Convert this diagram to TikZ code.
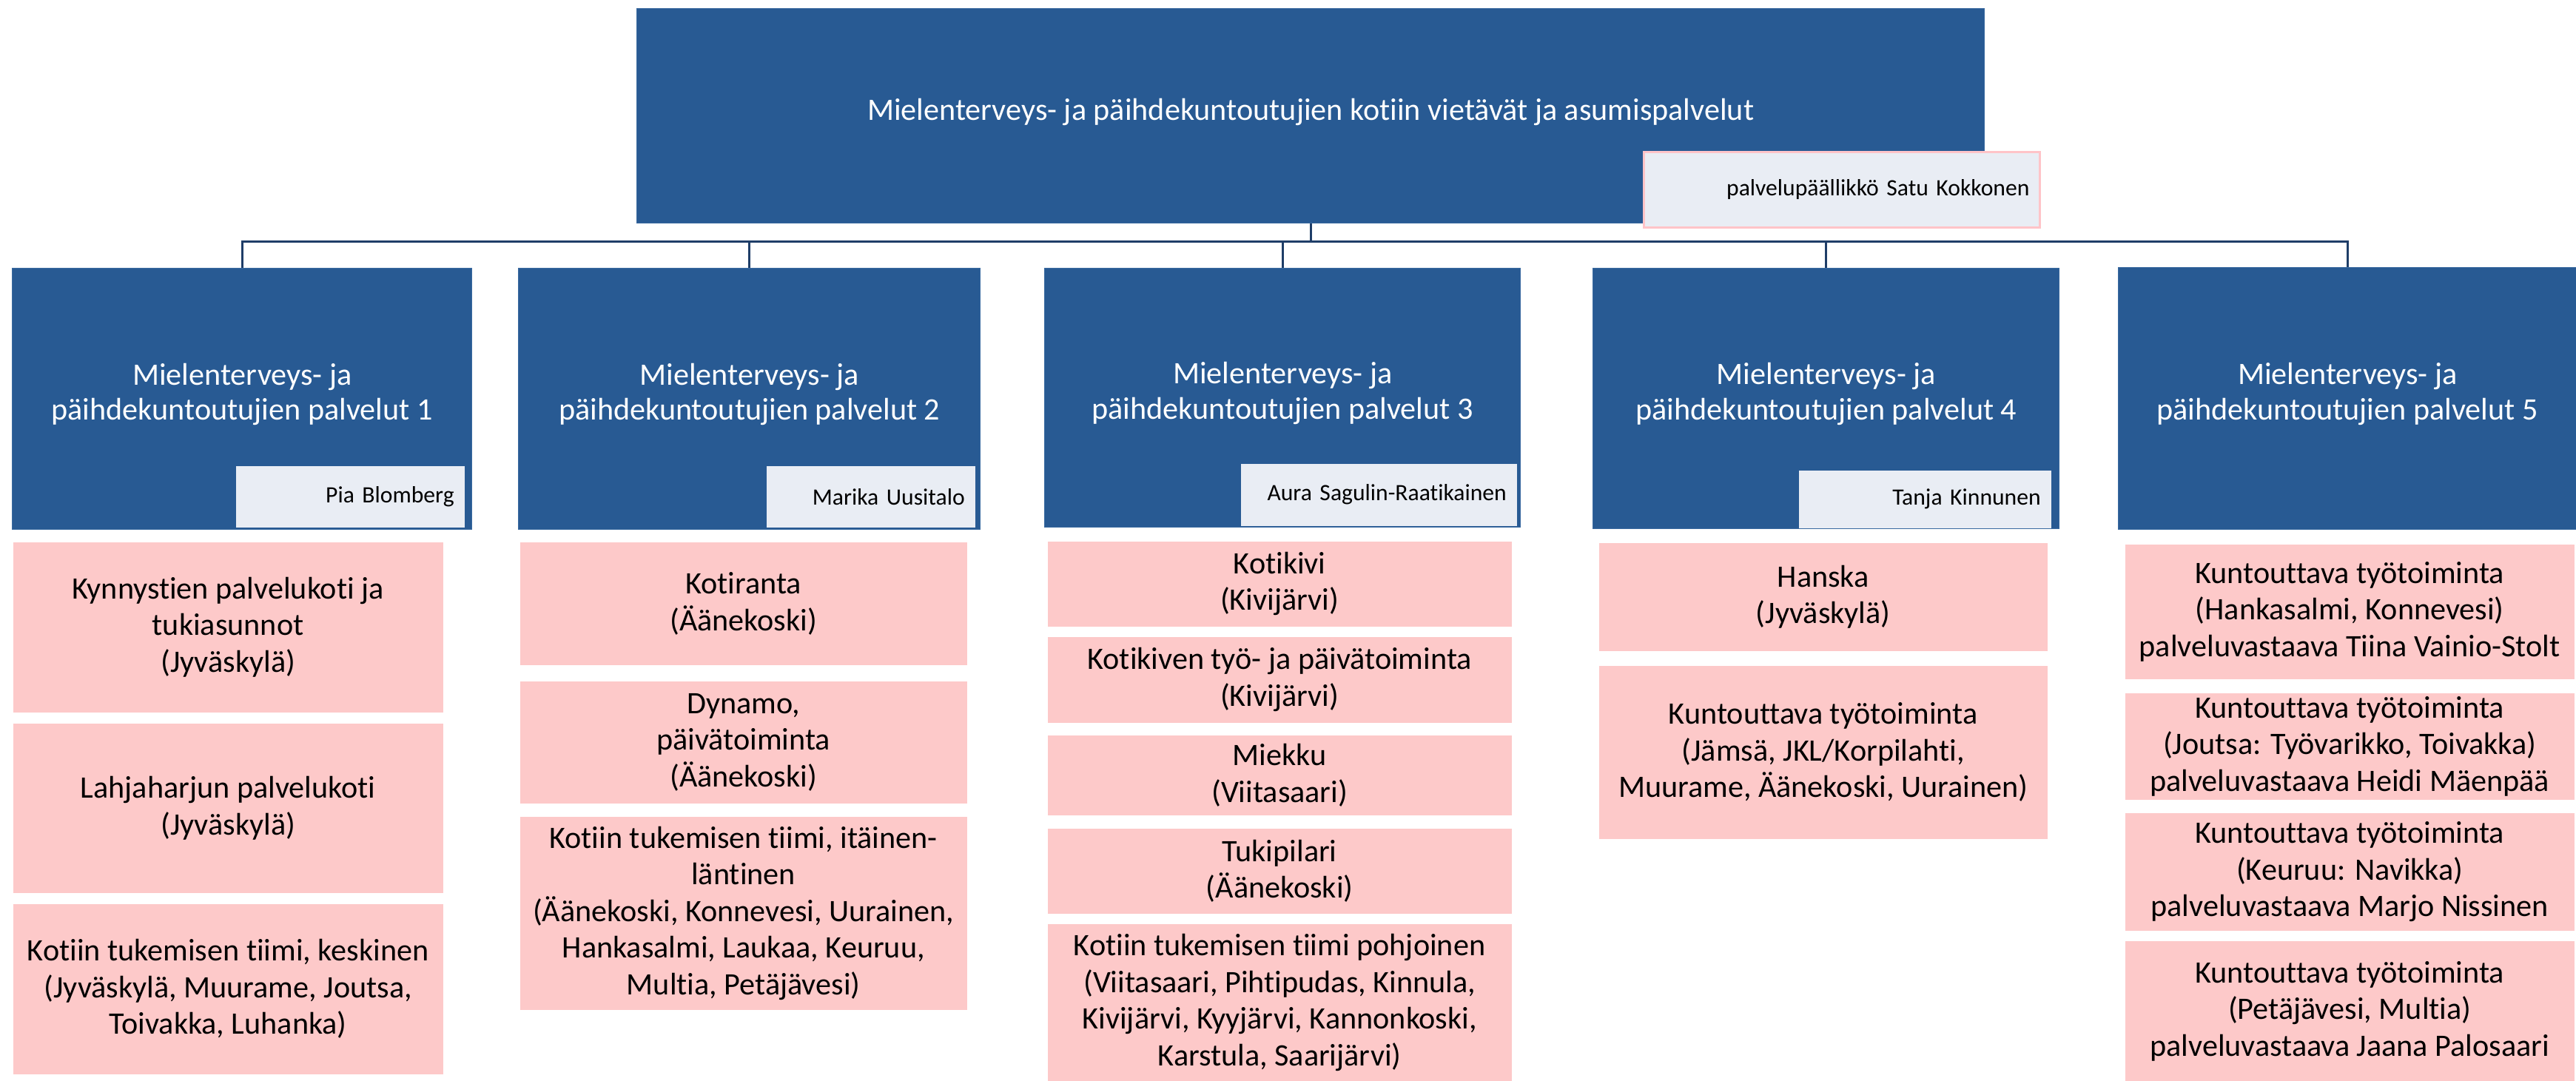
\documentclass[tikz,border=0pt]{standalone}
\usepackage{fontspec}
\setmainfont{Carlito}[Ligatures=NoCommon]
\usepackage{xcolor}
\usepackage{tikz}
\definecolor{unitblue}{HTML}{285A93}
\definecolor{unitedge}{HTML}{3A6AA0}
\definecolor{namegray}{HTML}{E9EDF4}
\definecolor{pinkfill}{HTML}{FDC9C9}
\definecolor{pinkedge}{HTML}{FFC4C8}
\definecolor{linkblue}{HTML}{1F3E68}

\begin{document}
\begin{tikzpicture}[
    unitbox/.style={anchor=north west, draw=unitedge, line width=0.4pt, fill=unitblue, text=white, align=center, inner sep=0pt, font=\fontsize{12}{13.6}\selectfont},
    namebox/.style={anchor=north west, fill=namegray, text=black, align=right, inner xsep=4pt, inner ysep=0pt, font=\fontsize{9}{11}\selectfont},
    pinkbox/.style={anchor=north west, fill=pinkfill, text=black, align=center, inner sep=0pt, font=\fontsize{12}{14.1}\selectfont},
    link/.style={draw=linkblue, line width=0.9pt}
]
            \useasboundingbox (0,0) rectangle (34.81,14.61);

            \node[unitbox, minimum width=18.21cm, minimum height=2.90cm] (top) at (8.60,14.50) {Mielenterveys- ja päihdekuntoutujien kotiin vietävät ja asumispalvelut\\[-0.30cm]};
            \node[namebox, draw=pinkedge, line width=0.8pt, text width=5.07cm, minimum height=1.02cm] (chief) at (22.20,12.57) {palvelupäällikkö Satu Kokkonen};

            \node[unitbox, minimum width=6.21cm, minimum height=3.53cm] (unit1) at (0.16,10.99) {Mielenterveys- ja\\päihdekuntoutujien palvelut 1\\[-0.28cm]};
            \node[unitbox, minimum width=6.24cm, minimum height=3.53cm] (unit2) at (7.00,10.99) {Mielenterveys- ja\\päihdekuntoutujien palvelut 2\\[-0.28cm]};
            \node[unitbox, minimum width=6.43cm, minimum height=3.50cm] (unit3) at (14.11,10.99) {Mielenterveys- ja\\päihdekuntoutujien palvelut 3\\[-0.28cm]};
            \node[unitbox, minimum width=6.30cm, minimum height=3.52cm] (unit4) at (21.52,10.99) {Mielenterveys- ja\\päihdekuntoutujien palvelut 4\\[-0.28cm]};
            \node[unitbox, minimum width=6.19cm, minimum height=3.54cm] (unit5) at (28.62,11.00) {Mielenterveys- ja\\päihdekuntoutujien palvelut 5\\[-0.28cm]};

            \node[namebox, text width=2.81cm, minimum height=0.83cm] (head1) at (3.18,8.32) {Pia Blomberg};
            \node[namebox, text width=2.54cm, minimum height=0.83cm] (head2) at (10.35,8.32) {Marika Uusitalo};
            \node[namebox, text width=3.45cm, minimum height=0.84cm] (head3) at (16.76,8.35) {Aura Sagulin-Raatikainen};
            \node[namebox, text width=3.13cm, minimum height=0.78cm] (head4) at (24.30,8.26) {Tanja Kinnunen};

            \foreach \u in {unit1,unit2,unit3,unit4,unit5}
                \draw[link] (top.south) -- ++(0,-0.24) -| (\u.north);

            \node[pinkbox, minimum width=5.81cm, minimum height=2.30cm] (s11) at (0.17,7.29) {Kynnystien palvelukoti ja\\tukiasunnot\\(Jyväskylä)};
            \node[pinkbox, minimum width=5.81cm, minimum height=2.29cm] (s12) at (0.17,4.84) {Lahjaharjun palvelukoti\\(Jyväskylä)};
            \node[pinkbox, minimum width=5.81cm, minimum height=2.30cm] (s13) at (0.17,2.40) {Kotiin tukemisen tiimi, keskinen\\(Jyväskylä, Muurame, Joutsa,\\Toivakka, Luhanka)};

            \node[pinkbox, minimum width=6.04cm, minimum height=1.66cm] (s21) at (7.02,7.29) {Kotiranta\\(Äänekoski)};
            \node[pinkbox, minimum width=6.04cm, minimum height=1.65cm] (s22) at (7.02,5.41) {Dynamo,\\päivätoiminta\\(Äänekoski)};
            \node[pinkbox, minimum width=6.04cm, minimum height=2.61cm] (s23) at (7.02,3.58) {Kotiin tukemisen tiimi, itäinen-\\läntinen\\(Äänekoski, Konnevesi, Uurainen,\\Hankasalmi, Laukaa, Keuruu,\\Multia, Petäjävesi)};

            \node[pinkbox, minimum width=6.27cm, minimum height=1.15cm] (s31) at (14.15,7.30) {Kotikivi\\(Kivijärvi)};
            \node[pinkbox, minimum width=6.27cm, minimum height=1.16cm] (s32) at (14.15,6.01) {Kotikiven työ- ja päivätoiminta\\(Kivijärvi)};
            \node[pinkbox, minimum width=6.27cm, minimum height=1.08cm] (s33) at (14.15,4.68) {Miekku\\(Viitasaari)};
            \node[pinkbox, minimum width=6.27cm, minimum height=1.15cm] (s34) at (14.15,3.42) {Tukipilari\\(Äänekoski)};
            \node[pinkbox, minimum width=6.27cm, minimum height=2.13cm] (s35) at (14.15,2.13) {Kotiin tukemisen tiimi pohjoinen\\(Viitasaari, Pihtipudas, Kinnula,\\Kivijärvi, Kyyjärvi, Kannonkoski,\\Karstula, Saarijärvi)};

            \node[pinkbox, minimum width=6.06cm, minimum height=1.46cm] (s41) at (21.60,7.28) {Hanska\\(Jyväskylä)};
            \node[pinkbox, minimum width=6.06cm, minimum height=2.34cm] (s42) at (21.60,5.62) {Kuntouttava työtoiminta\\(Jämsä, JKL/Korpilahti,\\Muurame, Äänekoski, Uurainen)};

            \node[pinkbox, minimum width=6.07cm, minimum height=1.82cm] (s51) at (28.71,7.26) {Kuntouttava työtoiminta\\(Hankasalmi, Konnevesi)\\palveluvastaava Tiina Vainio-Stolt};
            \node[pinkbox, minimum width=6.07cm, minimum height=1.44cm] (s52) at (28.71,5.25) {Kuntouttava työtoiminta\\(Joutsa: Työvarikko, Toivakka)\\palveluvastaava Heidi Mäenpää};
            \node[pinkbox, minimum width=6.07cm, minimum height=1.59cm] (s53) at (28.71,3.63) {Kuntouttava työtoiminta\\(Keuruu: Navikka)\\palveluvastaava Marjo Nissinen};
            \node[pinkbox, minimum width=6.07cm, minimum height=1.90cm] (s54) at (28.71,1.90) {Kuntouttava työtoiminta\\(Petäjävesi, Multia)\\palveluvastaava Jaana Palosaari};
        \end{tikzpicture}
\end{document}
